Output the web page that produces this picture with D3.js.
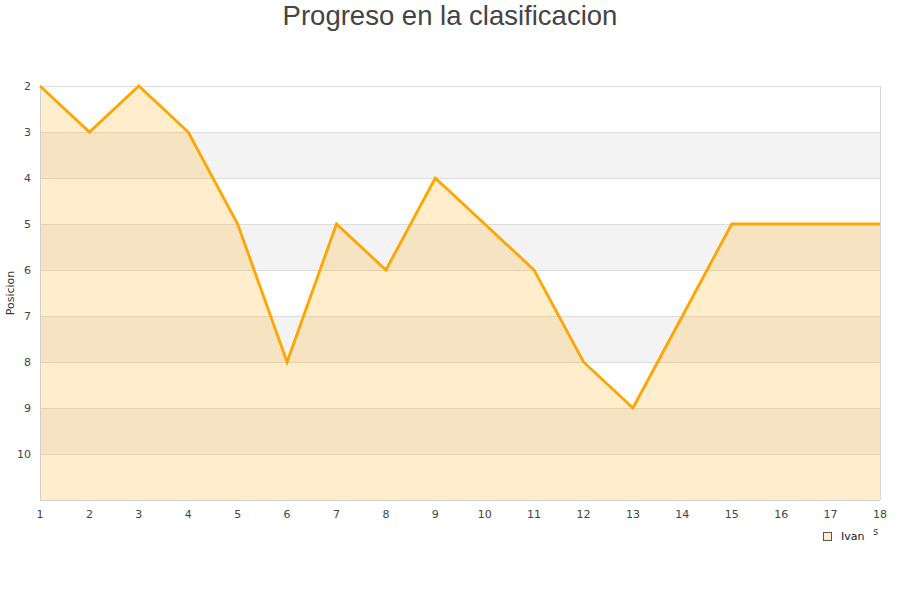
<!DOCTYPE html>
<html><head><meta charset="utf-8">
<script src="https://cdn.jsdelivr.net/npm/d3@7"></script>
<style>body{margin:0;background:#fff}svg{display:block}</style>
</head><body>
<svg id="c" width="900" height="600"></svg>
<script>
const jornadas = [1,2,3,4,5,6,7,8,9,10,11,12,13,14,15,16,17,18];
const posiciones = [2,3,2,3,5,8,5,6,4,5,6,8,9,7,5,5,5,5];
const yTicks = [2,3,4,5,6,7,8,9,10];
const bandStarts = [3,5,7,9];
const seriesName = "Ivan";
const title = "Progreso en la clasificacion";
const yTitle = "Posicion";

const svg = d3.select("#c");
const L = 40, R = 880, T = 86, B = 500;
const x = d3.scaleLinear().domain([1,18]).range([L,R]);
const y = d3.scaleLinear().domain([2,11]).range([T,B]);

svg.selectAll("rect.band").data(bandStarts).enter().append("rect")
  .attr("x", L).attr("width", R-L)
  .attr("y", d=>y(d)).attr("height", d=>y(d+1)-y(d))
  .attr("fill", "#f3f3f3");

svg.selectAll("line.grid").data(yTicks).enter().append("line")
  .attr("x1", L).attr("x2", R).attr("y1", d=>y(d)+0.5).attr("y2", d=>y(d)+0.5)
  .attr("stroke", "#dddddd");

const data = jornadas.map((j,i)=>({j, p: posiciones[i]}));
svg.append("path").datum(data)
  .attr("d", d3.area().x(d=>x(d.j)).y0(y(11)).y1(d=>y(d.p)))
  .attr("fill", "rgba(255,165,0,0.2)");

svg.append("line").attr("x1",L+0.5).attr("x2",L+0.5).attr("y1",T).attr("y2",B).attr("stroke","#d0d0d0");
svg.append("line").attr("x1",R+0.5).attr("x2",R+0.5).attr("y1",T).attr("y2",B).attr("stroke","#d8d8d8");
svg.append("line").attr("x1",L).attr("x2",R).attr("y1",B+0.5).attr("y2",B+0.5).attr("stroke","#d0d0d0");

svg.append("path").datum(data)
  .attr("d", d3.line().x(d=>x(d.j)).y(d=>y(d.p)))
  .attr("fill","none").attr("stroke","#ffa500").attr("stroke-width",2.8)
  .attr("stroke-linejoin","miter");

svg.selectAll("text.yl").data(yTicks).enter().append("text")
  .attr("x", 31).attr("y", d=>y(d)+4).attr("text-anchor","end")
  .attr("font-family","DejaVu Sans").attr("font-size",11).attr("fill","#444")
  .text(d=>d);
svg.selectAll("text.xl").data(jornadas).enter().append("text")
  .attr("x", d=>x(d)).attr("y", 518).attr("text-anchor","middle")
  .attr("font-family","DejaVu Sans").attr("font-size",11).attr("fill","#444")
  .text(d=>d);

svg.append("text").attr("transform","translate(14,293) rotate(-90)")
  .attr("text-anchor","middle").attr("font-family","DejaVu Sans").attr("font-size",11).attr("fill","#333")
  .text(yTitle);

svg.append("text").attr("x",450).attr("y",25).attr("text-anchor","middle")
  .attr("font-family","Liberation Sans, Arial, sans-serif").attr("font-size",27.5).attr("fill","#444")
  .text(title);

svg.append("rect").attr("x",823.5).attr("y",532.5).attr("width",8).attr("height",8)
  .attr("fill","rgba(255,165,0,0.2)").attr("stroke","#555");
svg.append("text").attr("x",841).attr("y",540).attr("font-family","DejaVu Sans").attr("font-size",11).attr("fill","#222").text(seriesName);
svg.append("text").attr("x",873).attr("y",535).attr("font-family","DejaVu Sans").attr("font-size",10).attr("fill","#444").text("s");
</script>
</body></html>
